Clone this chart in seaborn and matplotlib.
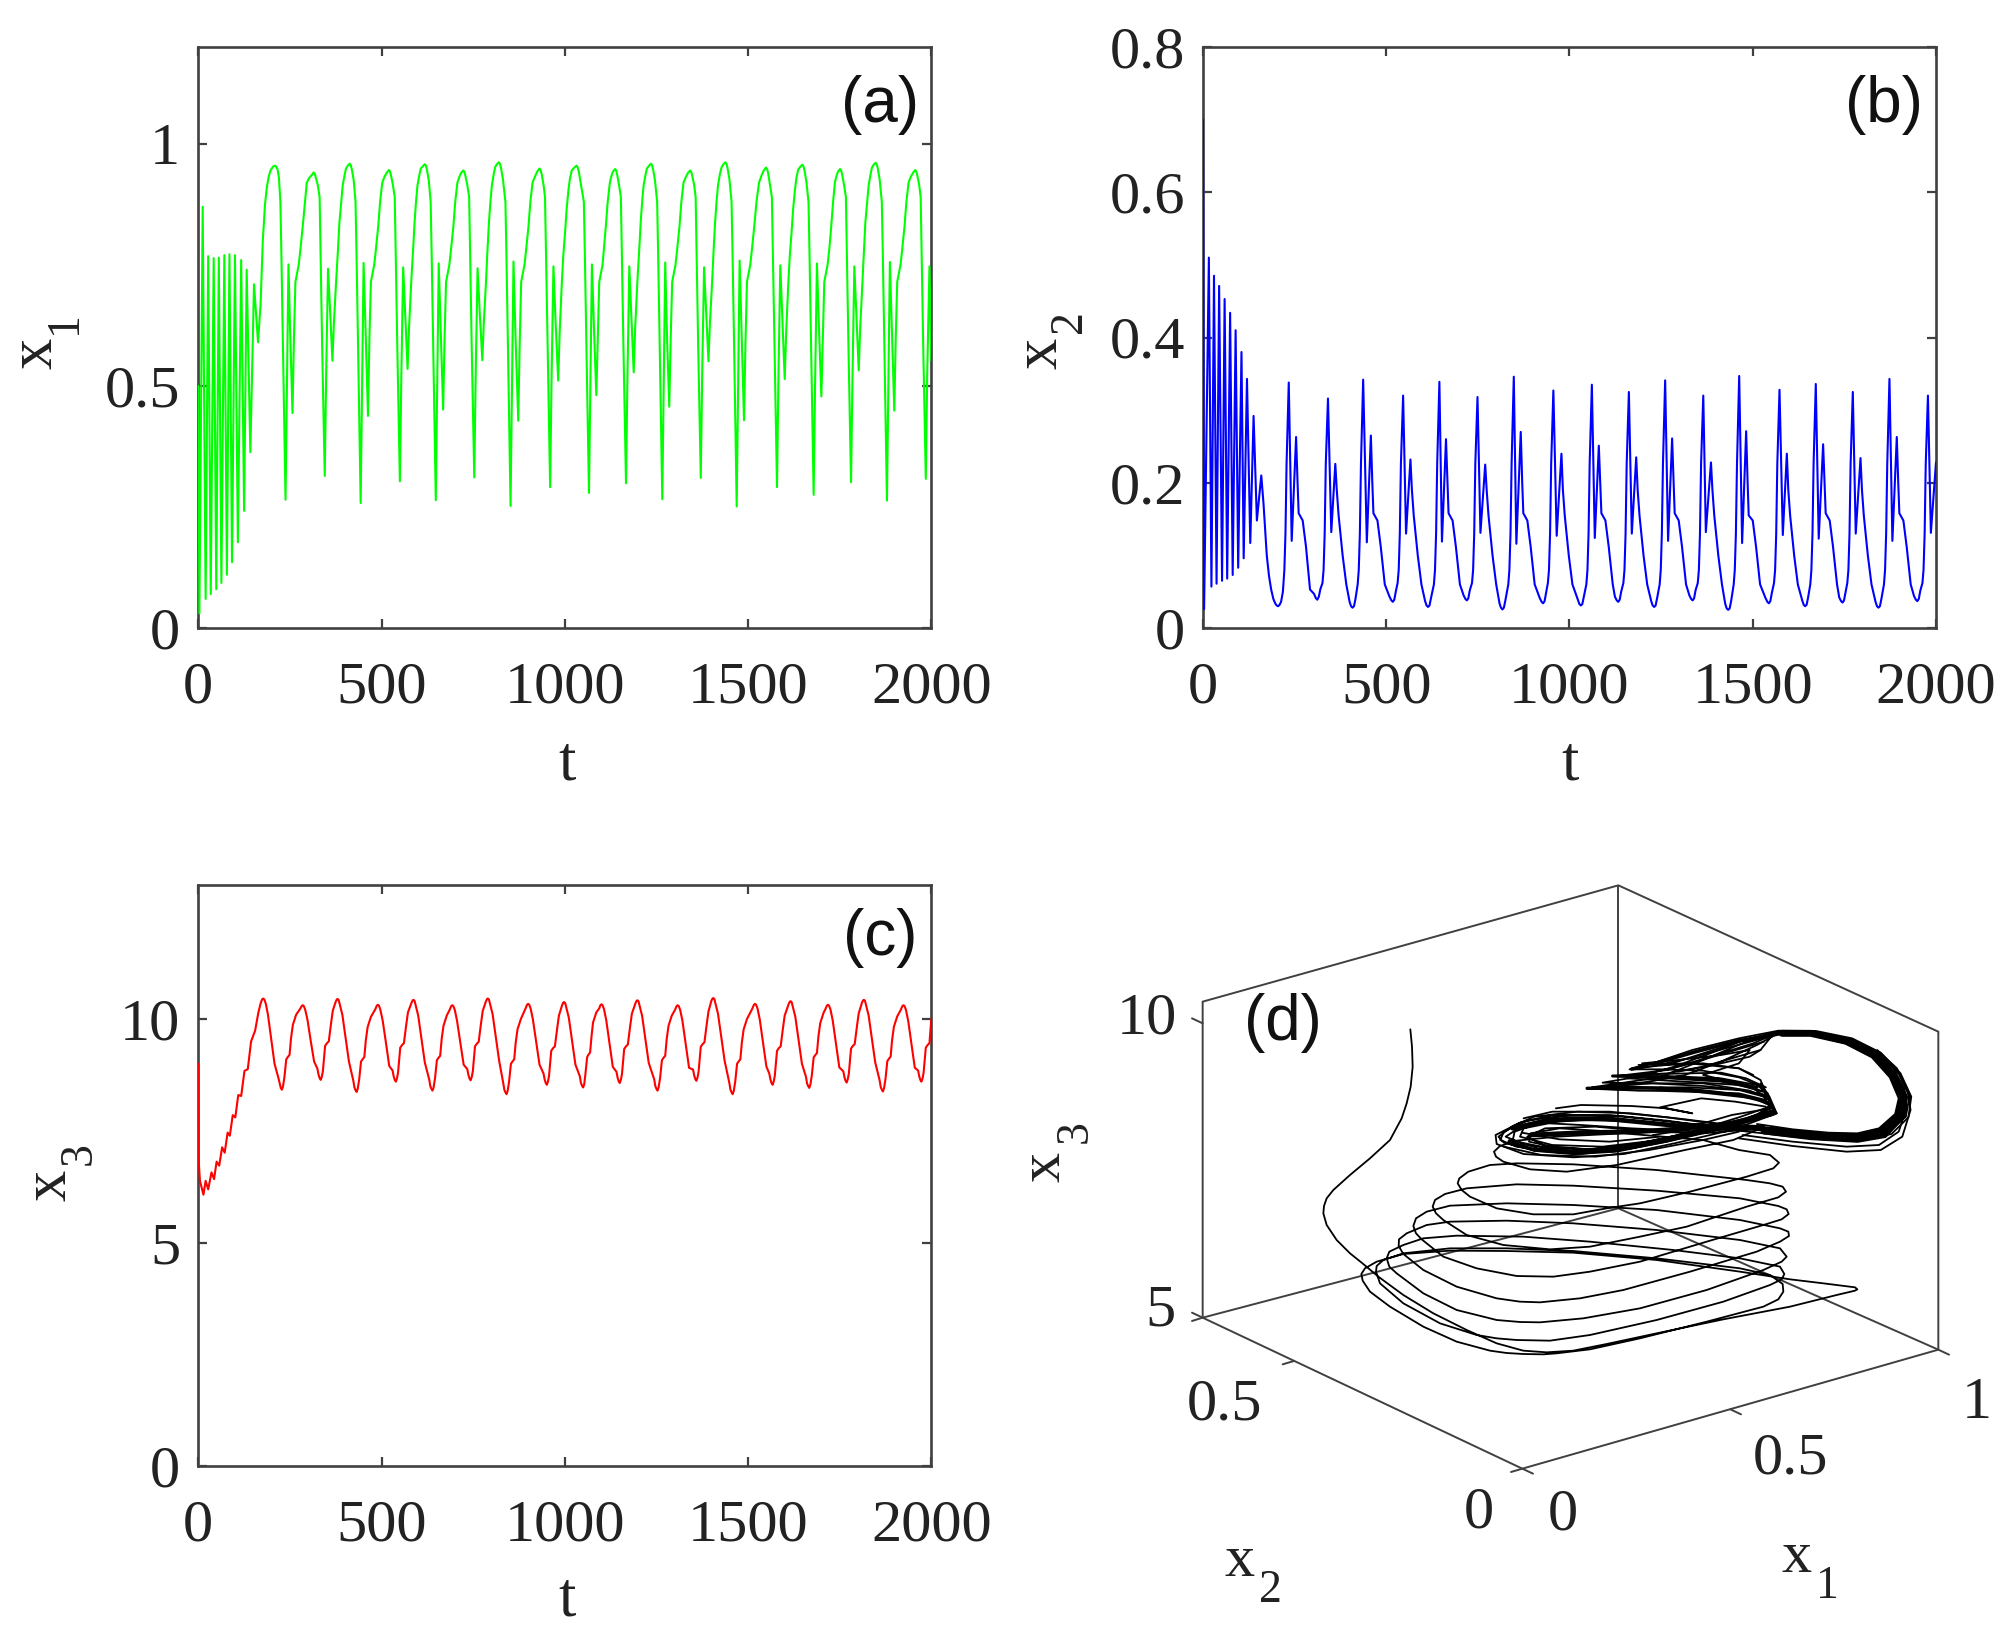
import numpy as np
import matplotlib
matplotlib.use('Agg')
import matplotlib.pyplot as plt
import seaborn as sns

# -- Time series (a), (b), (c) -----------------------------------------
x1_t = [0,3,12,20,27,34,42,49,56,63,71,78,85,92,100,108,117,125,132,142,152,163,170,176,182,187,192,197,204,210,216,220,224,227,231,
        238,242,246,251,257,261,265,274,279,285,291,296,303,309,315,318,321,326,331,334,338,
        345,349,354,360,366,370,376,381,385,390,394,399,403,408,413,416,419,424,429,432,436,
        443,447,451,457,463,467,471,480,485,491,496,502,508,514,520,523,526,531,536,539,543,
        550,554,559,565,571,575,581,586,590,594,598,603,607,613,618,621,624,629,634,637,641,
        648,652,656,662,668,672,676,685,690,696,701,707,712,717,723,726,729,734,739,742,746,
        753,757,762,768,775,779,785,789,793,797,801,806,810,815,820,823,826,831,838,841,845,
        852,856,860,866,873,877,881,890,895,901,906,912,919,925,931,934,937,942,946,949,953,
        960,964,969,975,982,986,992,996,1001,1005,1010,1014,1019,1026,1032,1035,1038,1043,1052,1055,1059,
        1066,1070,1074,1080,1086,1090,1094,1103,1107,1112,1117,1123,1127,1131,1137,1140,1143,1148,1153,1156,1160,
        1167,1171,1176,1182,1188,1192,1198,1203,1207,1211,1215,1220,1224,1230,1235,1238,1241,1246,1252,1255,1259,
        1266,1270,1274,1279,1285,1289,1293,1302,1307,1313,1318,1324,1330,1336,1342,1345,1348,1353,1357,1360,1364,
        1371,1375,1380,1386,1392,1396,1402,1406,1410,1414,1418,1423,1428,1433,1438,1441,1444,1449,1455,1458,1462,
        1469,1473,1477,1483,1489,1493,1497,1506,1511,1517,1523,1530,1537,1543,1549,1552,1555,1560,1565,1568,1572,
        1579,1583,1588,1594,1600,1604,1610,1614,1619,1623,1628,1632,1637,1643,1648,1651,1654,1659,1665,1668,1672,
        1679,1683,1688,1694,1700,1704,1708,1717,1722,1727,1732,1737,1741,1745,1751,1754,1757,1762,1767,1770,1774,
        1781,1785,1790,1796,1802,1806,1812,1816,1820,1825,1829,1834,1838,1843,1848,1851,1854,1859,1865,1868,1872,
        1879,1883,1887,1893,1899,1903,1907,1916,1921,1927,1932,1938,1944,1950,1956,1959,1962,1967,1971,1974,1978,
        1985,1989,1995,2000]
x1_v = [.5,.03,.87,.06,.768,.07,.764,.08,.765,.093,.77,.11,.772,.136,.77,.177,.76,.242,.74,.363,.71,.59,.67,.80,.875,.91,.932,.945,.953,.955,.948,.93,.88,.76,.58,
        .265,.51,.751,.60,.444,.60,.715,.75,.785,.83,.88,.92,.93,.935,.941,.938,.929,.915,.89,.76,.58,
        .314,.53,.742,.65,.552,.63,.715,.78,.837,.88,.914,.935,.949,.955,.959,.956,.947,.925,.88,.76,.58,
        .258,.51,.754,.60,.438,.60,.715,.75,.785,.83,.88,.92,.932,.94,.946,.943,.934,.915,.89,.76,.58,
        .303,.52,.745,.64,.535,.62,.715,.78,.837,.88,.914,.935,.949,.954,.958,.955,.946,.924,.88,.76,.58,
        .264,.51,.753,.60,.451,.60,.715,.75,.785,.83,.88,.92,.931,.94,.945,.942,.933,.915,.89,.76,.58,
        .311,.53,.743,.65,.553,.63,.715,.78,.837,.88,.914,.937,.952,.958,.962,.959,.95,.928,.88,.76,.58,
        .252,.50,.757,.59,.428,.59,.715,.75,.785,.83,.88,.92,.933,.943,.949,.946,.937,.915,.89,.76,.58,
        .291,.52,.747,.63,.511,.61,.715,.77,.82,.865,.905,.928,.945,.951,.955,.952,.943,.921,.88,.76,.58,
        .279,.52,.751,.61,.481,.60,.715,.75,.785,.83,.88,.92,.933,.942,.948,.945,.936,.915,.89,.76,.58,
        .299,.52,.747,.64,.528,.62,.715,.78,.837,.88,.914,.935,.949,.955,.959,.956,.947,.925,.88,.76,.58,
        .266,.51,.755,.60,.457,.60,.715,.75,.785,.83,.88,.92,.931,.94,.945,.942,.933,.915,.89,.76,.58,
        .31,.53,.745,.65,.551,.63,.715,.78,.837,.88,.914,.937,.952,.958,.962,.959,.95,.928,.88,.76,.58,
        .251,.50,.759,.59,.429,.59,.715,.75,.785,.83,.88,.92,.935,.945,.951,.948,.939,.915,.89,.76,.58,
        .291,.52,.749,.63,.514,.61,.715,.77,.82,.865,.905,.93,.947,.953,.957,.954,.945,.923,.88,.76,.58,
        .275,.51,.753,.61,.478,.60,.715,.75,.785,.83,.88,.92,.933,.942,.948,.945,.936,.915,.89,.76,.58,
        .301,.52,.747,.64,.532,.62,.715,.78,.837,.88,.914,.936,.951,.957,.961,.958,.949,.927,.88,.76,.58,
        .263,.51,.756,.60,.449,.60,.715,.75,.785,.83,.88,.92,.932,.94,.946,.943,.934,.915,.89,.76,.58,
        .308,.53,.747,.552]

x2_t = [0,3,16,23,30,37,44,52,59,66,74,81,89,96,105,111,120,129,138,147,159,165,174,180,186,192,197,201,205,209,213,218,222,225,228,
        234,242,254,258,261,272,281,292,303,308,312,316,320,326,329,332,335,
        341,350,361,365,370,381,391,400,404,408,412,416,422,425,428,431,
        437,447,458,462,465,476,485,496,509,514,518,522,526,531,534,537,540,
        546,554,566,570,575,586,596,606,610,614,618,622,630,633,636,639,
        645,652,663,667,670,681,690,701,711,716,720,724,728,734,737,740,743,
        749,757,770,774,779,790,800,809,813,817,821,825,833,836,839,842,
        848,855,867,871,874,885,894,905,919,924,928,932,936,941,944,947,950,
        956,965,978,982,987,998,1008,1023,1027,1031,1035,1039,1046,1049,1052,1055,
        1061,1069,1080,1084,1087,1098,1107,1118,1124,1129,1133,1137,1141,1147,1150,1153,1156,
        1162,1170,1182,1186,1191,1202,1212,1223,1227,1231,1235,1239,1246,1249,1252,1255,
        1261,1269,1280,1284,1287,1298,1307,1318,1327,1332,1336,1340,1344,1350,1353,1356,1359,
        1365,1372,1386,1390,1395,1406,1416,1425,1429,1433,1437,1441,1448,1451,1454,1457,
        1463,1471,1482,1486,1489,1500,1509,1520,1535,1540,1544,1548,1552,1558,1561,1564,1567,
        1573,1582,1593,1597,1602,1613,1623,1635,1639,1643,1647,1651,1657,1660,1663,1666,
        1672,1680,1692,1696,1699,1710,1719,1730,1736,1741,1745,1749,1753,1758,1761,1764,1767,
        1773,1781,1794,1798,1803,1814,1824,1835,1839,1843,1847,1851,1858,1861,1864,1867,
        1873,1881,1893,1897,1900,1911,1920,1931,1940,1945,1949,1953,1957,1963,1966,1969,1972,
        1978,1986,2000]
x2_v = [.7,.026,.51,.057,.485,.061,.471,.065,.453,.068,.434,.073,.41,.083,.38,.096,.343,.117,.292,.148,.21,.172,.10,.072,.053,.04,.034,.031,.03,.032,.036,.05,.08,.13,.226,
        .338,.12,.263,.2,.158,.148,.112,.053,.047,.041,.039,.043,.053,.062,.08,.13,.226,
        .316,.132,.226,.19,.155,.10,.06,.036,.03,.028,.03,.04,.06,.08,.13,.226,
        .342,.118,.265,.2,.158,.148,.112,.06,.043,.038,.036,.039,.05,.062,.08,.13,.226,
        .32,.13,.232,.19,.155,.10,.06,.037,.031,.029,.031,.041,.06,.08,.13,.226,
        .339,.119,.26,.2,.158,.148,.112,.06,.045,.04,.038,.041,.052,.062,.08,.13,.226,
        .318,.131,.225,.19,.155,.10,.06,.034,.028,.0255,.028,.038,.06,.08,.13,.226,
        .346,.116,.27,.2,.158,.148,.112,.06,.041,.036,.034,.037,.048,.062,.08,.13,.226,
        .327,.127,.24,.19,.155,.10,.06,.039,.033,.031,.033,.043,.06,.08,.13,.226,
        .335,.124,.251,.2,.158,.148,.112,.06,.043,.038,.036,.039,.05,.062,.08,.13,.226,
        .325,.13,.235,.19,.155,.10,.06,.037,.031,.029,.031,.041,.06,.08,.13,.226,
        .341,.12,.261,.2,.158,.148,.112,.06,.045,.04,.038,.041,.052,.062,.08,.13,.226,
        .32,.132,.228,.19,.155,.10,.06,.033,.027,.025,.027,.037,.06,.08,.13,.226,
        .347,.117,.271,.2,.155,.148,.112,.06,.041,.036,.034,.037,.048,.062,.08,.13,.226,
        .328,.128,.24,.19,.155,.10,.06,.038,.032,.03,.032,.042,.06,.08,.13,.226,
        .336,.123,.253,.2,.158,.148,.112,.06,.042,.037,.035,.038,.049,.062,.08,.13,.226,
        .325,.13,.234,.19,.155,.10,.06,.036,.03,.028,.03,.04,.06,.08,.13,.226,
        .343,.12,.263,.2,.158,.148,.112,.06,.044,.039,.037,.04,.051,.062,.08,.13,.226,
        .32,.131,.228]

x3_t = [0,1,4.5,14,20,27,36,43,50,57,65,72,80,86,94,101,109,117,126,135,144,155,164,170,174,177,180,184,190,199,208,214,219,225,
        228,231,235,240,245,249,253,258,267,278,282,285,288,292,298,307,316,325,328,331,
        334,337,340,346,351,356,362,367,375,378,380,383,386,393,402,411,423,426,429,
        432,435,439,444,449,453,457,462,471,483,487,490,493,497,503,512,521,530,533,536,
        539,542,545,551,556,561,567,572,582,585,587,590,593,600,609,618,630,633,636,
        639,642,646,651,656,660,664,669,678,686,690,693,696,700,706,715,724,734,737,740,
        743,746,749,755,760,765,771,776,785,788,790,793,796,803,812,821,832,835,838,
        841,844,848,853,858,862,866,871,880,893,897,900,903,907,913,922,931,942,945,948,
        951,954,957,963,968,973,979,984,993,996,998,1001,1004,1011,1020,1029,1041,1044,1047,
        1050,1053,1056,1061,1065,1069,1073,1077,1086,1094,1097,1100,1103,1107,1113,1122,1131,1141,1144,1147,
        1150,1153,1156,1162,1167,1172,1178,1183,1193,1196,1198,1201,1204,1211,1220,1229,1244,1247,1250,
        1253,1256,1260,1265,1270,1274,1278,1283,1292,1301,1305,1308,1311,1315,1321,1330,1339,1350,1353,1356,
        1359,1362,1365,1371,1376,1381,1387,1392,1400,1403,1405,1408,1411,1418,1427,1436,1449,1452,1455,
        1458,1461,1465,1470,1475,1479,1483,1488,1497,1512,1516,1519,1522,1526,1532,1541,1550,1558,1561,1564,
        1567,1570,1573,1579,1584,1589,1595,1600,1611,1614,1616,1619,1622,1629,1638,1647,1658,1661,1664,
        1667,1670,1674,1679,1684,1688,1692,1697,1706,1711,1715,1718,1721,1725,1731,1740,1749,1760,1763,1766,
        1769,1772,1775,1781,1786,1791,1797,1802,1811,1814,1816,1819,1822,1829,1838,1847,1859,1862,1865,
        1868,1871,1875,1880,1885,1889,1893,1898,1907,1917,1921,1924,1927,1931,1937,1946,1955,1964,1967,1970,
        1973,1976,1979,1985,1990,1995,2000]
x3_v = [9,6.83,6.38,6.07,6.38,6.19,6.57,6.42,6.81,6.72,7.13,7.01,7.46,7.39,7.85,7.8,8.3,8.28,8.84,8.88,9.5,9.74,10.15,10.35,10.44,10.46,10.44,10.35,10.1,9.55,9.0,8.82,8.67,8.46,
        8.42,8.49,8.7,9.1,9.16,9.2,9.57,9.87,10.1,10.23,10.29,10.31,10.29,10.2,9.98,9.5,9.05,8.89,8.76,8.68,
        8.64,8.71,8.84,9.4,9.46,9.5,9.89,10.19,10.39,10.44,10.45,10.43,10.33,10.1,9.58,9.05,8.62,8.47,8.41,
        8.37,8.44,8.65,9.05,9.11,9.15,9.52,9.82,10.05,10.22,10.3,10.32,10.3,10.2,9.97,9.47,8.95,8.85,8.72,8.64,
        8.6,8.67,8.8,9.36,9.42,9.46,9.85,10.15,10.37,10.42,10.43,10.41,10.31,10.08,9.56,9.03,8.65,8.5,8.44,
        8.4,8.47,8.68,9.08,9.14,9.18,9.55,9.85,10.08,10.21,10.29,10.31,10.29,10.2,9.96,9.47,8.98,8.88,8.75,8.67,
        8.63,8.7,8.83,9.39,9.45,9.49,9.88,10.18,10.4,10.45,10.46,10.44,10.34,10.11,9.59,9.06,8.57,8.42,8.36,
        8.32,8.39,8.6,9.0,9.06,9.1,9.47,9.77,10.0,10.24,10.32,10.34,10.32,10.23,9.99,9.48,8.98,8.78,8.65,8.57,
        8.53,8.6,8.73,9.29,9.35,9.39,9.78,10.08,10.32,10.37,10.38,10.36,10.26,10.03,9.51,8.98,8.72,8.57,8.51,
        8.47,8.54,8.75,9.15,9.21,9.25,9.62,9.92,10.15,10.24,10.31,10.33,10.31,10.22,9.98,9.45,8.93,8.82,8.69,8.61,
        8.57,8.64,8.77,9.33,9.39,9.43,9.82,10.12,10.36,10.41,10.42,10.4,10.3,10.07,9.55,9.02,8.65,8.5,8.44,
        8.4,8.47,8.68,9.08,9.14,9.18,9.55,9.85,10.08,10.21,10.29,10.31,10.29,10.2,9.96,9.43,8.91,8.87,8.74,8.66,
        8.62,8.69,8.82,9.38,9.44,9.48,9.87,10.17,10.41,10.46,10.47,10.45,10.35,10.12,9.6,9.07,8.57,8.42,8.36,
        8.32,8.39,8.6,9.0,9.06,9.1,9.47,9.77,10.0,10.24,10.32,10.34,10.32,10.23,9.99,9.47,8.94,8.78,8.65,8.57,
        8.53,8.6,8.73,9.29,9.35,9.39,9.78,10.08,10.34,10.39,10.4,10.38,10.28,10.05,9.53,9.0,8.71,8.56,8.5,
        8.46,8.53,8.74,9.14,9.2,9.24,9.61,9.91,10.14,10.22,10.3,10.32,10.3,10.21,9.97,9.45,8.92,8.83,8.7,8.62,
        8.58,8.65,8.78,9.34,9.4,9.44,9.83,10.13,10.37,10.42,10.43,10.41,10.31,10.08,9.56,9.03,8.63,8.48,8.42,
        8.38,8.45,8.66,9.06,9.12,9.16,9.53,9.83,10.06,10.21,10.29,10.31,10.29,10.2,9.96,9.43,8.91,8.85,8.72,8.64,
        8.6,8.67,8.8,9.36,9.42,9.46,10.0]

time_ticks = [0, 500, 1000, 1500, 2000]
x1_ticks = [0, 0.5, 1]
x1_labels = ['0', '0.5', '1']
x2_ticks = [0, 0.2, 0.4, 0.6, 0.8]
x2_labels = ['0', '0.2', '0.4', '0.6', '0.8']
x3_ticks = [0, 5, 10]
x3_labels = ['0', '5', '10']

# -- Panel (d), trajectory as seen in the projected view ----------------
spiral_uv = [(361,-272),(366,-220),(368,-160),(362,-100),(350,-50),(335,-5),(300,60),(240,115),(180,165),(130,210),(110,235),(102,258),(100,280),(110,315),(140,360),(180,400),(215,428),
             (265,470),(340,525),(430,580),(530,630),(620,670),(700,692),(770,697),(850,692),(950,672),(1100,640),(1300,598),(1500,560),(1640,525),(1695,512),(1702,508),(1695,502),(1600,490),(1500,478),
             (1350,455),(1100,420),(850,398),(650,393),(480,392),(340,402),(260,425),(225,445),(214,462),(218,482),(240,515),(300,560),(400,620),(500,665),(600,692),(650,699),(700,702),(760,703),(800,700),
             (900,688),(1050,655),(1250,605),(1420,560),(1465,538),(1480,515),(1478,492),(1440,465),(1350,445),(1100,415),(850,393),(650,385),(480,385),(340,400),(280,420),
             (260,438),(258,455),(270,490),(340,550),(450,610),(560,645),(620,655),(680,660),(780,662),(900,645),(1100,600),(1300,545),(1440,495),(1475,478),(1483,462),(1470,440),(1350,415),(1150,390),
             (900,365),(700,350),(500,347),(400,355),(340,375),(298,395),(290,415),(298,440),(320,460),(400,520),(500,570),(620,600),(690,606),(750,607),(880,595),(1050,565),(1250,510),(1420,450),(1475,425),(1490,410),
             (1470,385),(1350,360),(1100,330),(850,310),(650,302),(480,305),(410,315),(350,340),(327,358),(326,378),(340,402),(400,450),(500,500),(620,535),(690,545),(750,547),(870,535),(1000,510),(1200,455),
             (1400,395),(1470,365),(1497,348),(1495,335),(1470,325),(1350,300),(1100,270),(850,255),(650,250),(480,257),(410,275),(378,295),(370,318),(378,340),(395,358),(460,410),(560,445),(680,468),(790,470),(900,455),
             (1050,425),(1250,365),(1420,315),(1475,298),(1496,282),(1490,268),(1465,258),(1350,235),(1100,212),(850,197),(680,193),(530,205),(465,222),(435,240),(428,260),(438,280),(460,300),(530,345),(640,375),(780,388),
             (900,380),(1050,350),(1190,320),(1370,260),(1465,232),(1488,215),(1478,200),(1440,190),(1370,180),(1100,150),(850,133),(680,130),(600,135),(535,155),(508,175),(503,190),(515,210),(540,230),(620,265),(730,283),
             (850,283),(950,265),(1050,250),(1200,215),(1370,170),(1450,145),(1467,128),(1440,105),(1347,90),(1239,60),(1000,40),(800,50),(680,62),(630,78),(612,95),(618,110),(640,125),(720,148),(830,155),
             (980,135),(1185,90),(1330,60),(1400,30)]

# later orbits, in the finer grid of the dense part of the view
orbit_uv = [(1050,372),(1150,388),(1250,398),(1330,400),(1390,385),(1435,342),(1445,295),(1420,232),(1370,172),(1295,130),(1200,105),(1100,102),(1000,122),(880,155),(780,185),(695,208),
            (780,208),(900,212),(1000,232),(1060,258),(1080,290),(1100,335),(1000,368),(850,410),(700,445),(560,462),(430,452),(345,428),(330,410),(370,378),(430,350),(550,335),(700,340),(850,358),
            (1000,378),(1150,398),(1250,408),(1335,410),(1405,392),(1455,345),(1462,290),(1432,225),(1380,165),(1300,122),(1200,98),(1100,96),(1060,150),(900,200),(800,220),(648,228),
            (800,235),(950,245),(1040,265),(1085,300),(1095,330),(950,385),(800,425),(650,455),(500,458),(380,440),(335,420),(345,395),(410,362),(520,345),(680,350),(850,370),
            (1000,382),(1150,405),(1250,415),(1340,415),(1415,398),(1465,350),(1475,290),(1445,222),(1390,160),(1310,118),(1210,95),(1120,94),(1050,135),(950,185),(850,225),(750,245),(577,265),
            (700,270),(850,275),(1000,280),(1075,300),(1090,325),(1000,365),(850,405),(700,440),(560,455),(440,445),(370,420),(375,395),(440,370),(560,360),(720,365),(880,378),
            (1000,375),(1150,393),(1250,403),(1332,405),(1398,388),(1445,343),(1455,292),(1428,228),(1375,168),(1298,126),(1200,100),(1100,99),(1020,118),(920,160),(820,200),(720,230),(620,248),
            (760,250),(900,258),(1010,270),(1075,285),(1105,340),(980,390),(820,430),(680,462),(540,472),(400,462),(325,432),(322,405),(390,368),(480,345),(640,345),(800,362),
            (1000,392),(1150,410),(1250,420),(1345,420),(1425,402),(1472,352),(1480,290),(1450,220),(1395,158),(1315,115),(1215,93),(1110,92),(1000,115),(870,150),(760,190),(700,205),
            (800,195),(900,190),(1000,205),(1060,240),(1090,315),(1050,345),(900,390),(780,420),(620,440),(480,435),(390,410),(400,385),(470,370),(560,375),(700,385),(900,395),
            (1040,378),(1150,392),(1250,402),(1330,403),(1395,386),(1440,342),(1450,293),(1424,230),(1372,170),(1296,128),(1200,103),(1105,100),(1000,125),(900,160),(800,195),(730,190),
            (830,180),(950,165),(1030,150),(1000,190),(900,225),(1000,250),(1070,275),(1100,330),(960,380),(800,412),(640,448),(500,445),(415,425),(420,400),(500,385),(650,395),(860,385),
            (1030,385),(1150,402),(1250,412),(1338,412),(1410,395),(1460,348),(1468,290),(1438,224),(1384,162),(1305,120),(1205,97),(1115,95),(1040,130),(920,170),(800,210),(660,228),
            (800,228),(950,235),(1050,255),(1080,280),(1098,335),(970,375),(820,418),(670,450),(520,452),(400,432),(350,410),(400,375),(500,350),(620,355),(780,372),(940,382),
            (1050,380),(1150,395),(1250,405),(1332,407),(1400,390),(1448,344),(1458,292),(1430,227),(1377,167),(1300,124),(1200,101),(1112,100),(1020,125),(900,180),(780,232),(590,262),
            (720,262),(860,262),(1000,270),(1070,290),(1085,320),(1000,352),(870,395),(720,432),(580,448),(460,438),(410,410),(460,385),(600,380),(760,395),(900,400),(1070,385)]

side_orbit_uv = [(490,325),(560,315),(700,318),(800,325),(870,340),(780,322),(895,295),(990,305),(1075,320)]

# short strands through the sheets and the lower band
strands = [[(1090,108),(980,140),(860,175),(760,198),(700,210)],
           [(1070,125),(960,160),(850,195),(770,215)],
           [(1060,150),(1030,170),(930,195),(830,215)],
           [(720,195),(860,190),(1000,205),(1040,225)],
           [(650,228),(780,222),(950,218),(1020,235),(1075,262)],
           [(690,235),(850,245),(1000,255),(1065,275)],
           [(600,262),(760,250),(900,250),(1030,272),(1085,298)],
           [(580,266),(720,272),(880,270),(1010,285),(1090,310)],
           [(780,262),(900,278),(1040,295),(1095,320)],
           [(1060,250),(1085,290),(1105,340)],
           [(1105,340),(1000,360),(880,385),(760,405)],
           [(1095,345),(960,385),(820,415),(680,445)],
           [(1090,325),(980,345),(900,370),(800,378)],
           [(345,440),(450,465),(600,470),(750,450),(900,420),(1000,395)],
           [(360,420),(470,445),(620,448),(770,425),(880,400)],
           [(395,398),(500,418),(640,425),(780,410)],
           [(400,355),(480,335),(640,335),(800,352),(960,375),(1070,378)],
           [(1000,415),(1150,438),(1300,455),(1395,450),(1455,410),(1478,330),(1470,270),(1440,205),(1385,150)],
           [(1010,405),(1150,425),(1300,440),(1390,435),(1445,395),(1468,320),(1460,265),(1430,205),(1385,160)]]

# where orbits pile up into solid black
band_uv = [(1070,393),(1200,410),(1330,418),(1405,404),(1452,350),(1461,292),(1432,228),(1380,167),(1300,124),(1200,100),(1120,100)]
band_top_uv = [(1120,100),(1000,122),(880,155),(760,192)]
band_leg_uv = [(1100,340),(950,385),(800,422),(660,452),(540,460),(430,450),(360,425)]
core_upper_uv = [(370,385),(470,360),(620,355),(780,372),(900,385),(1040,385)]
core_lower_uv = [(420,405),(560,398),(720,395),(860,385)]
sheet_uv = [(577,265),(700,262),(860,268),(1000,285),(1075,305)]
sheet2_uv = [(648,228),(800,232),(950,240),(1050,262)]

# box outline corners of the 3-D view
box_u = [-262, -262, 985, 1945, 1945, 697, -262]
box_v = [593, -355, -704, -265, 689, 1046, 593]
back_u = [-262, 985, 1945]
back_v = [593, 265, 689]
back_edge_u = [985, 985]
back_edge_v = [265, -704]
box_tick_u = [-262, -262, -262, 12, 697, 697, 1321, 1945]
box_tick_v = [-290, 593, 593, 723, 1046, 1046, 868, 689]
box_tick_du = [-32, -32, -32, -34, -34, 32, 32, 32]
box_tick_dv = [-15, -15, 10, 10, 10, 15, 15, 15]

# -- Style --------------------------------------------------------------
sns.set_theme(style='white')
plt.rcParams['font.family'] = ['Liberation Serif']

W, H = 2006, 1641
AXIS_COLOR = '#404040'
TEXT_COLOR = '#222222'
TICK_SIZE = 43.5
LW = 1.5


def box(left, top, right, bottom):
    return [left / W, 1 - bottom / H, (right - left) / W, (bottom - top) / H]


def sub_text(x, y, s, rotation=0):
    # subscript is a separate, lower glyph in the reference
    fig.text(x / W, 1 - y / H, s, ha='center', va='center', fontsize=33, color=TEXT_COLOR, rotation=rotation)


def style_axes(ax, ylim, yticks, ylabels, ylab_xy, sub_xy, sub, xlab_xy, letter, letter_xy, left, top):
    ax.set_xlim(0, 2000)
    ax.set_ylim(*ylim)
    ax.set_xticks(time_ticks)
    ax.set_xticklabels([str(t) for t in time_ticks])
    ax.set_yticks(yticks)
    ax.set_yticklabels(ylabels)
    ax.tick_params(direction='in', length=6.5, width=1.6, color=AXIS_COLOR, labelcolor=TEXT_COLOR,
                   labelsize=TICK_SIZE, top=True, right=True, left=True, bottom=True)
    ax.tick_params(axis='x', pad=24)
    ax.tick_params(axis='y', pad=13)
    for spine in ax.spines.values():
        spine.set_color(AXIS_COLOR)
        spine.set_linewidth(1.9)
    width, height = 733, 581
    ax.set_xlabel('t', fontsize=45, color=TEXT_COLOR, va='center')
    ax.xaxis.set_label_coords((xlab_xy[0] - left) / width, 1 - (xlab_xy[1] - top) / height)
    ax.set_ylabel('x', fontsize=45, color=TEXT_COLOR, va='center', rotation=90)
    ax.yaxis.set_label_coords((ylab_xy[0] - left) / width, 1 - (ylab_xy[1] - top) / height)
    sub_text(sub_xy[0], sub_xy[1], sub, rotation=90)
    ax.text((letter_xy[0] - left) / width, 1 - (letter_xy[1] - top) / height, letter, transform=ax.transAxes,
            family='Liberation Sans', fontsize=46, color='#111111', ha='center', va='center')


fig = plt.figure(figsize=(W / 100, H / 100), dpi=100, facecolor='white')

# (a)
ax_a = fig.add_axes(box(198.3, 47, 931.3, 628))
sns.lineplot(x=x1_t, y=x1_v, sort=False, estimator=None, color='#00ff00', linewidth=LW, zorder=3, ax=ax_a)
style_axes(ax_a, (0, 1.2), x1_ticks, x1_labels, (37, 353), (65, 323), '1', (567, 764), '(a)', (880, 105), 198.3, 47)

# (b)
ax_b = fig.add_axes(box(1203, 47, 1936, 628))
sns.lineplot(x=x2_t, y=x2_v, sort=False, estimator=None, color='#0000ff', linewidth=LW, zorder=3, ax=ax_b)
style_axes(ax_b, (0, 0.8), x2_ticks, x2_labels, (1042, 353), (1070, 322), '2', (1570, 764), '(b)', (1884, 105), 1203, 47)

# (c)
ax_c = fig.add_axes(box(198.3, 885, 931.3, 1466))
sns.lineplot(x=x3_t, y=x3_v, sort=False, estimator=None, color='#ff0000', linewidth=LW, zorder=3, ax=ax_c)
style_axes(ax_c, (0, 13), x3_ticks, x3_labels, (51, 1185), (79, 1154), '3', (567, 1600), '(c)', (880, 938), 198.3, 885)

# (d) drawn on a bare overlay, one unit is a third of a pixel
ax_d = fig.add_axes([0, 0, 1, 1], facecolor='none')
ax_d.set_xlim(-3870, 2148)
ax_d.set_ylim(1563, -3360)
for u, v in [(box_u, box_v), (back_u, back_v), (back_edge_u, back_edge_v)]:
    ax_d.plot(u, v, color=AXIS_COLOR, linewidth=1.4, solid_capstyle='butt')
for u0, v0, du, dv in zip(box_tick_u, box_tick_v, box_tick_du, box_tick_dv):
    ax_d.plot([u0, u0 + du], [v0, v0 + dv], color=AXIS_COLOR, linewidth=1.4)

spiral = np.array(spiral_uv, dtype=float)
sns.lineplot(x=spiral[:, 0], y=spiral[:, 1], sort=False, estimator=None, color='black', linewidth=1.3, ax=ax_d)
# dense part was read in a crop squeezed sideways and shifted
parts = [(orbit_uv, 1.3), (side_orbit_uv, 1.3), (band_uv, 5.0), (band_top_uv, 2.6), (band_leg_uv, 2.6),
         (core_upper_uv, 3.4), (core_lower_uv, 3.4), (sheet_uv, 2.4), (sheet2_uv, 2.2)]
parts += [(s, 1.3) for s in strands]
for pts, lw in parts:
    part = np.array(pts, dtype=float)
    sns.lineplot(x=part[:, 0] / 0.9286 + 270, y=part[:, 1] - 360, sort=False, estimator=None,
                 color='black', linewidth=lw, ax=ax_d)
ax_d.axis('off')


def d_text(x, y, s, **kw):
    fig.text(x / W, 1 - y / H, s, ha='center', va='center', fontsize=TICK_SIZE, color=TEXT_COLOR, **kw)


d_text(1147, 1020, '10')
d_text(1160, 1311, '5')
d_text(1225, 1405, '0.5')
d_text(1479, 1514, '0')
d_text(1563, 1515, '0')
d_text(1791, 1459, '0.5')
d_text(1977, 1404, '1')
d_text(1240, 1562, 'x')
sub_text(1270, 1591, '2')
d_text(1797, 1558, 'x')
sub_text(1827, 1587, '1')
d_text(1046, 1167, 'x', rotation=90)
sub_text(1075, 1132, '3', rotation=90)
fig.text(1283 / W, 1 - 1023 / H, '(d)', family='Liberation Sans', fontsize=46, color='#111111', ha='center', va='center')

fig.savefig('out.png', dpi=100)
